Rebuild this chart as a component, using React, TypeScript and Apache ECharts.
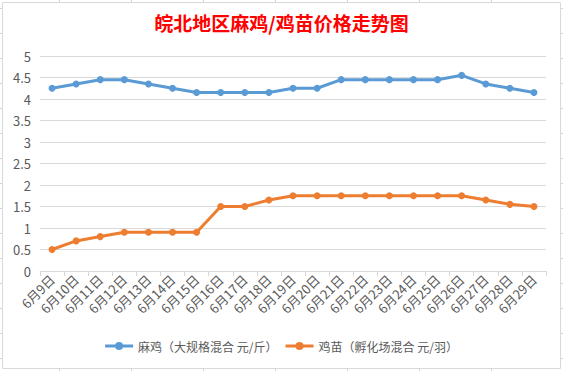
import React, { useEffect, useRef } from "react";
import * as echarts from "echarts";

const categories = [
  "6月9日", "6月10日", "6月11日", "6月12日", "6月13日", "6月14日", "6月15日",
  "6月16日", "6月17日", "6月18日", "6月19日", "6月20日", "6月21日", "6月22日",
  "6月23日", "6月24日", "6月25日", "6月26日", "6月27日", "6月28日", "6月29日",
];
const maJi = [4.25, 4.35, 4.45, 4.45, 4.35, 4.25, 4.15, 4.15, 4.15, 4.15, 4.25, 4.25, 4.45, 4.45, 4.45, 4.45, 4.45, 4.55, 4.35, 4.25, 4.15];
const jiMiao = [0.5, 0.7, 0.8, 0.9, 0.9, 0.9, 0.9, 1.5, 1.5, 1.65, 1.75, 1.75, 1.75, 1.75, 1.75, 1.75, 1.75, 1.75, 1.65, 1.55, 1.5];
const seriesNames = ["麻鸡（大规格混合 元/斤）", "鸡苗（孵化场混合 元/羽）"];
const titleText = "皖北地区麻鸡/鸡苗价格走势图";

const FONT = "'Noto Sans CJK SC', 'Noto Sans', sans-serif";
const LEGEND_ICON = "path://M0 2.5 H28 V5.5 H0 Z M10 4 A4 4 0 1 1 18 4 A4 4 0 1 1 10 4 Z";

export default function App() {
  const ref = useRef<HTMLDivElement>(null);
  useEffect(() => {
    if (!ref.current) return;
    const chart = echarts.init(ref.current, undefined, { renderer: "svg" });
    const outside: any[] = [];
    const gridColor = "#D4D4D4";
    [59, 131, 203, 275, 347, 419, 491].forEach((x) => {
      outside.push({ type: "line", shape: { x1: x + 0.5, y1: 0, x2: x + 0.5, y2: 2 }, style: { stroke: gridColor, lineWidth: 1 } });
      outside.push({ type: "line", shape: { x1: x + 0.5, y1: 368, x2: x + 0.5, y2: 371 }, style: { stroke: gridColor, lineWidth: 1 } });
    });
    for (let y = 8; y <= 360; y += 25) {
      const yy = y + 0.5;
      outside.push({ type: "line", shape: { x1: 0, y1: yy, x2: 2, y2: yy }, style: { stroke: gridColor, lineWidth: 1 } });
      outside.push({ type: "line", shape: { x1: 561, y1: yy, x2: 563, y2: yy }, style: { stroke: gridColor, lineWidth: 1 } });
    }
    chart.setOption({
      animation: false,
      backgroundColor: "#FFFFFF",
      textStyle: { fontFamily: FONT },
      graphic: [
        ...outside,
        {
          type: "rect",
          z: -10,
          shape: { x: 2.5, y: 2.5, width: 558, height: 366 },
          style: { fill: "#FFFFFF", stroke: "#D9D9D9", lineWidth: 1 },
        },
      ],
      title: {
        text: titleText,
        left: "center",
        top: 8,
        textStyle: { color: "#FF0000", fontSize: 19, fontWeight: "bold", fontFamily: FONT },
      },
      legend: {
        data: seriesNames.map((name) => ({ name, icon: LEGEND_ICON })),
        left: "center",
        top: 335,
        itemWidth: 28,
        itemHeight: 8,
        itemGap: 8,
        textStyle: { color: "#595959", fontSize: 12, fontFamily: FONT },
      },
      grid: { left: 40, right: 17, top: 56, bottom: 100, containLabel: false },
      xAxis: {
        type: "category",
        data: categories,
        boundaryGap: true,
        axisLine: { lineStyle: { color: "#D9D9D9", width: 1 } },
        axisTick: { show: true, length: 5, lineStyle: { color: "#D9D9D9" } },
        axisLabel: { rotate: 45, interval: 0, color: "#595959", fontSize: 13, margin: 6, fontFamily: FONT },
      },
      yAxis: {
        type: "value",
        min: 0,
        max: 5,
        interval: 0.5,
        axisLine: { show: false },
        axisTick: { show: false },
        axisLabel: { color: "#595959", fontSize: 13, margin: 9, fontFamily: FONT },
        splitLine: { lineStyle: { color: "#D9D9D9", width: 1 } },
      },
      series: [
        {
          name: seriesNames[0],
          type: "line",
          data: maJi,
          symbol: "circle",
          symbolSize: 7,
          lineStyle: { color: "#5B9BD5", width: 3 },
          itemStyle: { color: "#5B9BD5" },
        },
        {
          name: seriesNames[1],
          type: "line",
          data: jiMiao,
          symbol: "circle",
          symbolSize: 7,
          lineStyle: { color: "#ED7D31", width: 3 },
          itemStyle: { color: "#ED7D31" },
        },
      ],
    });
    return () => chart.dispose();
  }, []);
  return (
    <div
      ref={ref}
      style={{ position: "absolute", left: 0, top: 0, width: 563, height: 371 }}
    />
  );
}
